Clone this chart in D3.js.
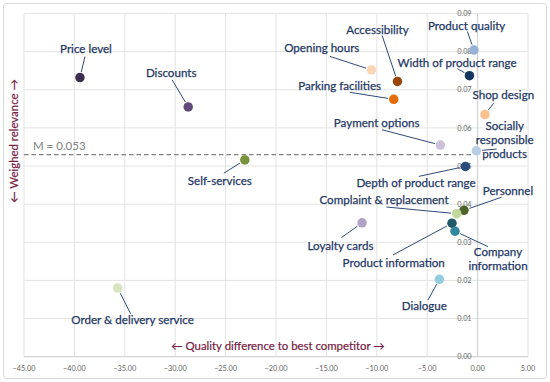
<!DOCTYPE html>
<html><head><meta charset="utf-8">
<script src="https://cdn.jsdelivr.net/npm/d3@7"></script>
<style>body{margin:0;background:#fff;}svg{display:block;font-family:Lato,"Open Sans",sans-serif;}</style>
</head><body><svg id="c" width="550" height="382"></svg>
<script>
// ---- data ----
const names = ["Price level","Discounts","Self-services","Order & delivery service","Opening hours","Accessibility","Parking facilities","Product quality","Width of product range","Shop design","Socially responsible products","Payment options","Depth of product range","Personnel","Complaint & replacement","Product information","Company information","Loyalty cards","Dialogue"];
const qualityDiff = [-39.45,-28.71,-23.09,-35.71,-10.53,-7.95,-8.32,-0.36,-0.81,0.73,-0.12,-3.69,-1.21,-1.35,-2.07,-2.54,-2.24,-11.46,-3.79];
const relevance = [0.0732,0.0655,0.0516,0.0180,0.0752,0.0722,0.0675,0.0804,0.0737,0.0635,0.0540,0.0555,0.0499,0.0384,0.0375,0.0350,0.0329,0.0351,0.0203];
const colors = ["#3e2f50","#604a7b","#77933c","#d7e4bd","#fcd5b5","#984807","#e46c0a","#95b3d7","#17375e","#fac090","#b9cde5","#ccc1da","#2a4c7c","#4f6228","#c3d69b","#215968","#31859c","#b3a2c7","#93cddd"];
const meanRelevance = 0.053;
const xTicks = [-45,-40,-35,-30,-25,-20,-15,-10,-5,0,5];
const yTicks = [0,0.01,0.02,0.03,0.04,0.05,0.06,0.07,0.08,0.09];

// ---- label layout (pixel offsets from the marker) ----
const labelLayout = [
  {lines:["Price level"],dx:6,dy:-28.7,lx:5,ly:-21},
  {lines:["Discounts"],dx:-17,dy:-34,lx:-16,ly:-27},
  {lines:["Self-services"],dx:-25,dy:21,lx:-21,ly:13.3},
  {lines:["Order & delivery service"],dx:15,dy:32,lx:13,ly:25.7},
  {lines:["Opening hours"],dx:-49.7,dy:-22,lx:-41.7,ly:-13.6},
  {lines:["Accessibility"],dx:-20,dy:-51,lx:-15.4,ly:-46},
  {lines:["Parking facilities"],dx:-54,dy:-13,lx:-44,ly:-7},
  {lines:["Product quality"],dx:-7.3,dy:-24.6,lx:-6.6,ly:-18.6},
  {lines:["Width of product range"],dx:-12.4,dy:-12.7,lx:-12,ly:-7},
  {lines:["Shop design"],dx:18.4,dy:-19.4,lx:8.7,ly:-11.4},
  {lines:["Socially","responsible","products"],dx:28.3,dy:-24.3,lx:20.3,ly:-1.7},
  {lines:["Payment options"],dx:-63.7,dy:-21.6,lx:-58.4,ly:-15.3},
  {lines:["Depth of product range"],dx:-49.4,dy:16.6,lx:-46.7,ly:10},
  {lines:["Personnel"],dx:44,dy:-19,lx:37.4,ly:-13},
  {lines:["Complaint & replacement"],dx:-72.7,dy:-13.7,lx:-70.3,ly:-6.7},
  {lines:["Product information"],dx:-58.3,dy:39.4,lx:-59,ly:31.7},
  {lines:["Company","information"],dx:43,dy:21,lx:33,ly:15.4},
  {lines:["Loyalty cards"],dx:-21.6,dy:22.7,lx:-20.6,ly:14.7},
  {lines:["Dialogue"],dx:-15,dy:27,lx:-11.4,ly:20.7}
];

const svg = d3.select("#c");
const W=550,H=382;
const pLeft=24,pRight=528,pTop=13.5,pBottom=356.7;
const x = d3.scaleLinear().domain([-45,5]).range([pLeft,pRight]);
const y = d3.scaleLinear().domain([0,0.09]).range([pBottom,pTop]);

svg.append("rect").attr("x",3.5).attr("y",3.5).attr("width",W-7).attr("height",H-7)
  .attr("rx",3).attr("fill","#fff").attr("stroke","#d9d9d9");

// grid
const g = svg.append("g");
g.selectAll(".vg").data(xTicks).join("line")
  .attr("x1",d=>x(d)).attr("x2",d=>x(d)).attr("y1",pTop).attr("y2",pBottom)
  .attr("stroke","#e3e3e3").attr("stroke-width",1);
g.selectAll(".hg").data(yTicks).join("line")
  .attr("x1",pLeft).attr("x2",pRight).attr("y1",d=>y(d)).attr("y2",d=>y(d))
  .attr("stroke","#e3e3e3").attr("stroke-width",1);

// axes lines
svg.append("line").attr("x1",pLeft).attr("x2",pRight).attr("y1",y(0)).attr("y2",y(0)).attr("stroke","#d0d0d0");
svg.append("line").attr("x1",x(0)).attr("x2",x(0)).attr("y1",pTop).attr("y2",pBottom).attr("stroke","#d0d0d0");

// x tick labels
const fmt = d3.format(".2f");
svg.selectAll(".xt").data(xTicks).join("text")
  .attr("x",d=>x(d)).attr("y",370.5).attr("text-anchor","middle")
  .attr("font-size",7.3).attr("fill","#666").text(d=>fmt(d));
// y tick labels at x=0
svg.selectAll(".yt").data(yTicks).join("text")
  .attr("x",x(0)-6).attr("y",d=>y(d)+2.6).attr("text-anchor","end")
  .attr("font-size",7.3).attr("fill","#666").text(d=>fmt(d));

// mean line
svg.append("line").attr("x1",pLeft).attr("x2",x(0)-4).attr("y1",y(meanRelevance)).attr("y2",y(meanRelevance))
  .attr("stroke","#7f7f7f").attr("stroke-width",1.1).attr("stroke-dasharray","4.5,3");
svg.append("text").attr("x",33).attr("y",y(meanRelevance)-5).attr("font-size",11.5).attr("fill","#7f7f7f")
  .text("M = " + meanRelevance.toFixed(3));

// axis titles
const titleColor="#76203f";
svg.append("text").attr("x",278).attr("y",350).attr("text-anchor","middle").attr("font-size",11.4)
  .attr("fill",titleColor).attr("stroke",titleColor).attr("stroke-width",0.2)
  .text("\u2190 Quality difference to best competitor \u2192");
svg.append("text").attr("transform","translate(18,141) rotate(-90)").attr("text-anchor","middle")
  .attr("font-size",11.4).attr("fill",titleColor).attr("stroke",titleColor).attr("stroke-width",0.2)
  .text("\u2190 Weighed relevance \u2192");

const r=4.75;
const pts = names.map((n,i)=>({n,px:x(qualityDiff[i]),py:y(relevance[i]),c:colors[i],L:labelLayout[i]}));

// leader lines
svg.selectAll(".ld").data(pts).join("line")
  .each(function(d){
    const sx=d.px+d.L.lx, sy=d.py+d.L.ly;
    const vx=sx-d.px, vy=sy-d.py, len=Math.hypot(vx,vy);
    const ex=d.px+vx/len*(r+1), ey=d.py+vy/len*(r+1);
    d3.select(this).attr("x1",sx).attr("y1",sy).attr("x2",ex).attr("y2",ey);
  })
  .attr("stroke","#2f4a78").attr("stroke-width",1);

// markers
svg.selectAll(".pt").data(pts).join("circle")
  .attr("cx",d=>d.px).attr("cy",d=>d.py).attr("r",r).attr("fill",d=>d.c);

// labels
const lab = svg.selectAll(".lb").data(pts).join("text")
  .attr("text-anchor","middle").attr("font-size",11.6).attr("fill","#1f3864")
  .attr("stroke","#1f3864").attr("stroke-width",0.25);
lab.each(function(d){
  const t=d3.select(this);
  d.L.lines.forEach((ln,k)=>{
    t.append("tspan").attr("x",d.px+d.L.dx).attr("y",d.py+d.L.dy+4+k*14).text(ln);
  });
});
</script></body></html>
